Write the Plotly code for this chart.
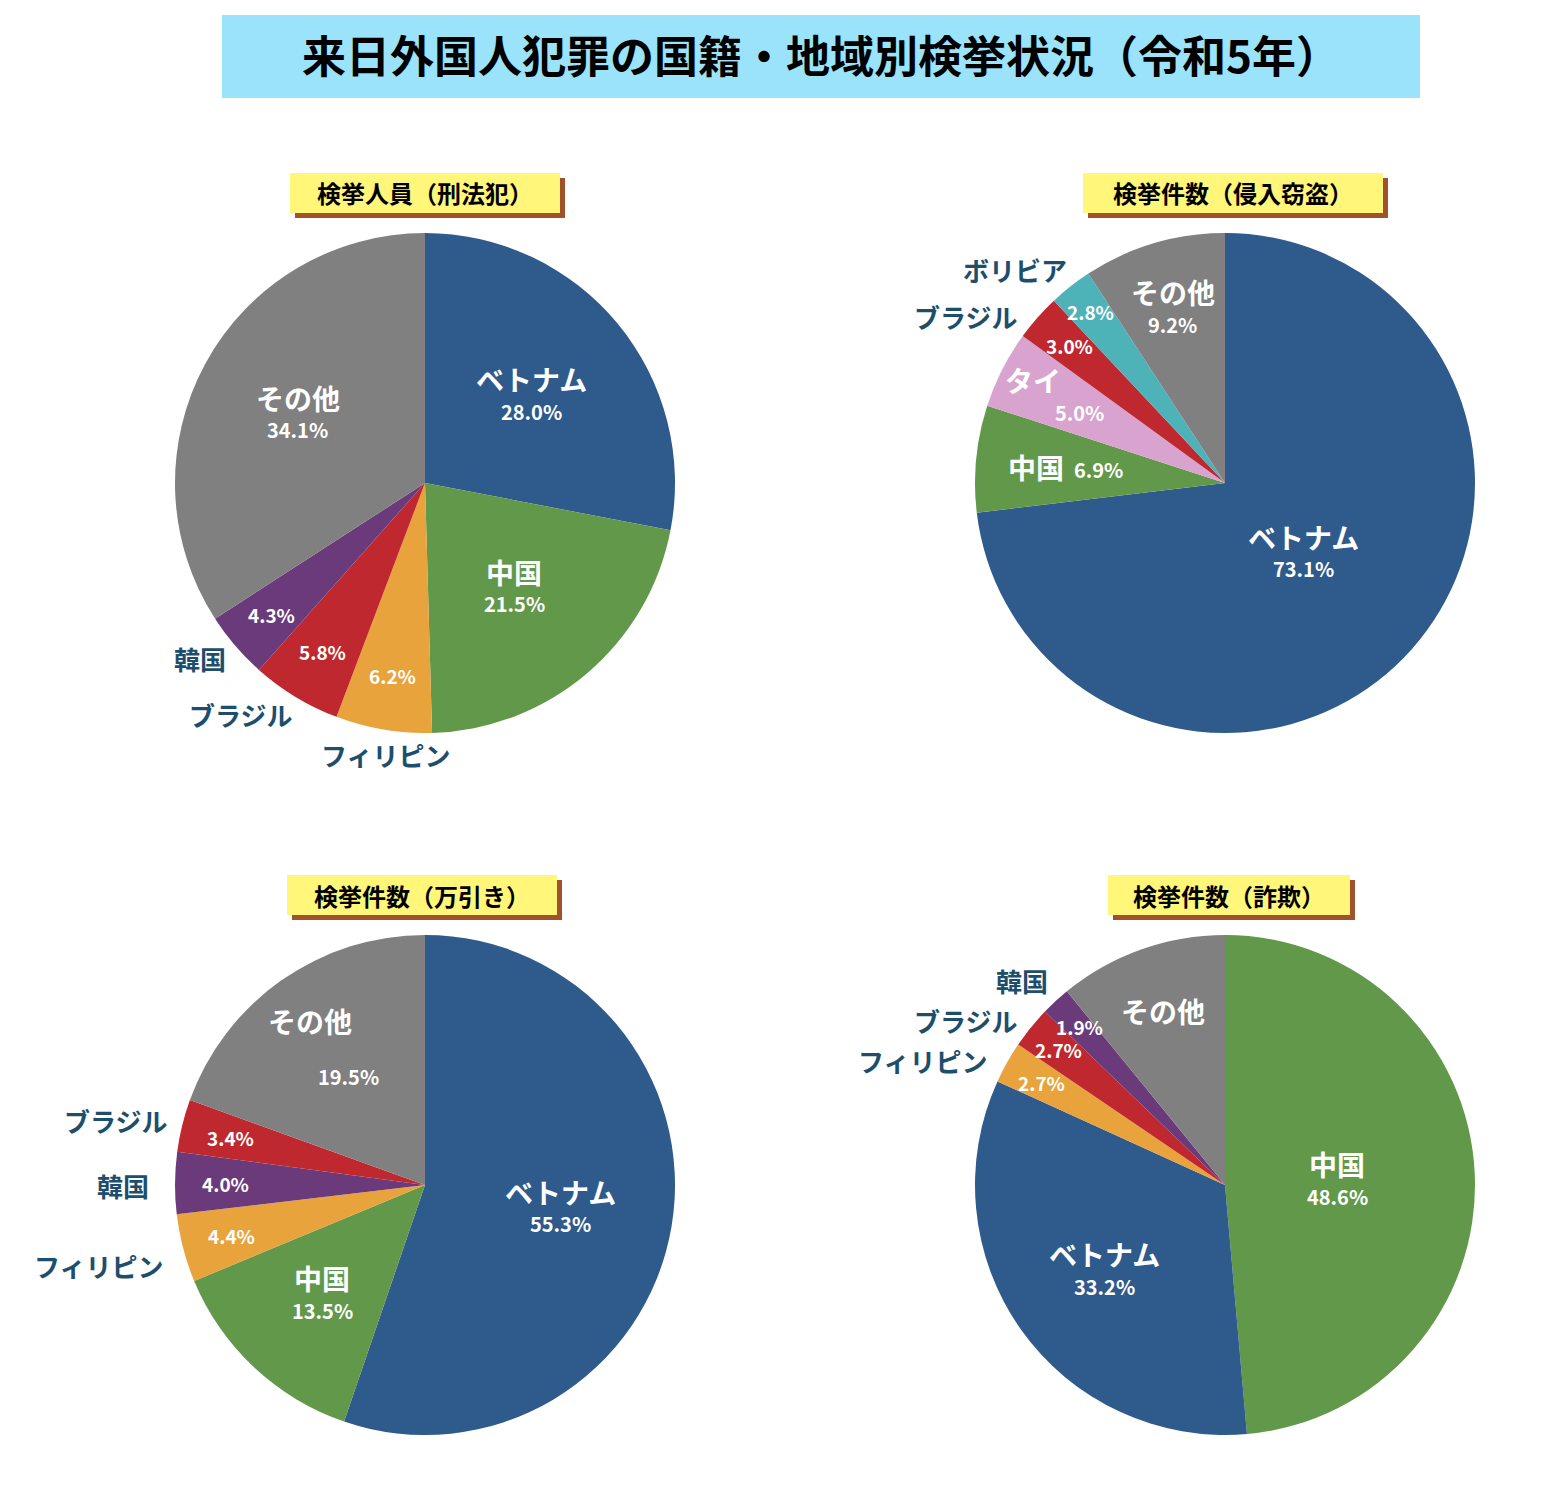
import math
import plotly.graph_objects as go

W, H = 1544, 1500
OFF = 8  # page margin compensation
FONT = "Noto Sans CJK JP"

title = "来日外国人犯罪の国籍・地域別検挙状況（令和5年）"

p1_title = "検挙人員（刑法犯）"
p1_labels = ["ベトナム", "中国", "フィリピン", "ブラジル", "韓国", "その他"]
p1_values = [28.0, 21.5, 6.2, 5.8, 4.3, 34.1]

p2_title = "検挙件数（侵入窃盗）"
p2_labels = ["ベトナム", "中国", "タイ", "ブラジル", "ボリビア", "その他"]
p2_values = [73.1, 6.9, 5.0, 3.0, 2.8, 9.2]

p3_title = "検挙件数（万引き）"
p3_labels = ["ベトナム", "中国", "フィリピン", "韓国", "ブラジル", "その他"]
p3_values = [55.3, 13.5, 4.4, 4.0, 3.4, 19.5]

p4_title = "検挙件数（詐欺）"
p4_labels = ["中国", "ベトナム", "フィリピン", "ブラジル", "韓国", "その他"]
p4_values = [48.6, 33.2, 2.7, 2.7, 1.9, 10.9]

COL = {"ベトナム": "#2e5a8c", "中国": "#62984a", "フィリピン": "#e8a33d",
       "ブラジル": "#c0282f", "韓国": "#6b3a7a", "その他": "#808080",
       "タイ": "#d9a3d0", "ボリビア": "#4db3b8"}
OUT_C = "#1d4e6b"

# style: label -> (mode, name_frac, pct_frac, outside name offset from centre in px)
pies = [
    dict(title=p1_title, labels=p1_labels, values=p1_values, c=(425, 483), tb=(290, 560),
         style={"ベトナム": ("in", 0.55, 0, None), "中国": ("in", 0.55, 0, None),
                "フィリピン": ("out", 0, 0.78, (-40, 271)), "ブラジル": ("out", 0, 0.79, (-185, 231)),
                "韓国": ("out", 0, 0.81, (-225, 175)), "その他": ("in", 0.58, 0, None)}),
    dict(title=p2_title, labels=p2_labels, values=p2_values, c=(1225, 483), tb=(1083, 1383),
         style={"ベトナム": ("in", 0.42, 0, None), "中国": ("inline", 0.64, 0, None),
                "タイ": ("inline2", 0.78, 0, None), "ブラジル": ("out", 0, 0.83, (-260, -167)),
                "ボリビア": ("out", 0, 0.87, (-210, -213)), "その他": ("in", 0.73, 0, None)}),
    dict(title=p3_title, labels=p3_labels, values=p3_values, c=(425, 1185), tb=(287, 557),
         style={"ベトナム": ("in", 0.55, 0, None), "中国": ("in", 0.6, 0, None),
                "フィリピン": ("out", 0, 0.8, (-327, 80)), "韓国": ("out", 0, 0.8, (-302, 0)),
                "ブラジル": ("out", 0, 0.8, (-310, -65)), "その他": ("split", 0.8, 0.53, None)}),
    dict(title=p4_title, labels=p4_labels, values=p4_values, c=(1225, 1185), tb=(1108, 1350),
         style={"中国": ("in", 0.45, 0, None), "ベトナム": ("in", 0.59, 0, None),
                "フィリピン": ("out", 0, 0.84, (-303, -125)), "ブラジル": ("out", 0, 0.86, (-260, -165)),
                "韓国": ("out", 0, 0.86, (-203, -205)), "その他": ("nameonly", 0.74, 0, None)}),
]
R = 250

fig = go.Figure()
ann, shapes = [], []

def P(x, y):
    return (x - OFF) / W, 1 - (y - OFF) / H

def add_text(x, y, text, size, color):
    px, py = P(x, y)
    ann.append(dict(x=px, y=py, xref="paper", yref="paper", text=text, showarrow=False,
                    font=dict(family=FONT, size=size, color=color), xanchor="center", yanchor="middle"))

def rect(x0, y0, x1, y1, color):
    a, b = P(x0, y1)
    c, d = P(x1, y0)
    shapes.append(dict(type="rect", xref="paper", yref="paper", x0=a, x1=c, y0=b, y1=d,
                       fillcolor=color, line=dict(width=0), layer="below"))

for p in pies:
    cx, cy = p["c"]
    x0, y0 = P(cx - R, cy + R)
    x1, y1 = P(cx + R, cy - R)
    fig.add_trace(go.Pie(labels=p["labels"], values=p["values"], sort=False, direction="clockwise",
                         rotation=0, textinfo="none", hoverinfo="label+percent",
                         marker=dict(colors=[COL[l] for l in p["labels"]], line=dict(width=0)),
                         domain=dict(x=[x0, x1], y=[y0, y1]), showlegend=False))
    tot = sum(p["values"])
    cum = 0
    for lab, v in zip(p["labels"], p["values"]):
        mid = (cum + v / 2) / tot * 360
        cum += v
        mode, fn, fp, off = p["style"][lab]
        def pos(f):
            a = math.radians(mid)
            return cx + R * f * math.sin(a), cy - R * f * math.cos(a)
        pct = f"<b>{v:.1f}%</b>"
        name = f"<b>{lab}</b>"
        if mode == "in":
            x, y = pos(fn)
            add_text(x, y - 16, name, 28, "white")
            add_text(x, y + 16, pct, 20, "white")
        elif mode == "inline":
            x, y = pos(fn)
            add_text(x - 30, y, name, 28, "white")
            add_text(x + 33, y + 2, pct, 20, "white")
        elif mode == "inline2":
            x, y = pos(fn)
            add_text(x - 18, y - 14, name, 28, "white")
            add_text(x + 28, y + 18, pct, 20, "white")
        elif mode == "split":
            x, y = pos(fn); add_text(x, y, name, 28, "white")
            x, y = pos(fp); add_text(x, y, pct, 20, "white")
        elif mode == "nameonly":
            x, y = pos(fn); add_text(x, y, name, 28, "white")
        else:
            add_text(cx + off[0], cy + off[1], name, 26, OUT_C)
            x, y = pos(fp); add_text(x, y, pct, 19, "white")
    bx0, bx1 = p["tb"]
    by0, by1 = cy - R - 60, cy - R - 20
    rect(bx0 + 5, by0 + 5, bx1 + 5, by1 + 5, "#a0522d")
    rect(bx0, by0, bx1, by1, "#fff67a")
    add_text((bx0 + bx1) / 2, (by0 + by1) / 2, f"<b>{p['title']}</b>", 24, "black")

rect(222, 15, 1420, 98, "#9be3fb")
add_text(821, 54, f"<b>{title}</b>", 44, "black")

fig.update_layout(width=W, height=H, margin=dict(l=0, r=0, t=0, b=0), paper_bgcolor="white",
                  plot_bgcolor="white", annotations=ann, shapes=shapes)
fig.write_html("out.html")
